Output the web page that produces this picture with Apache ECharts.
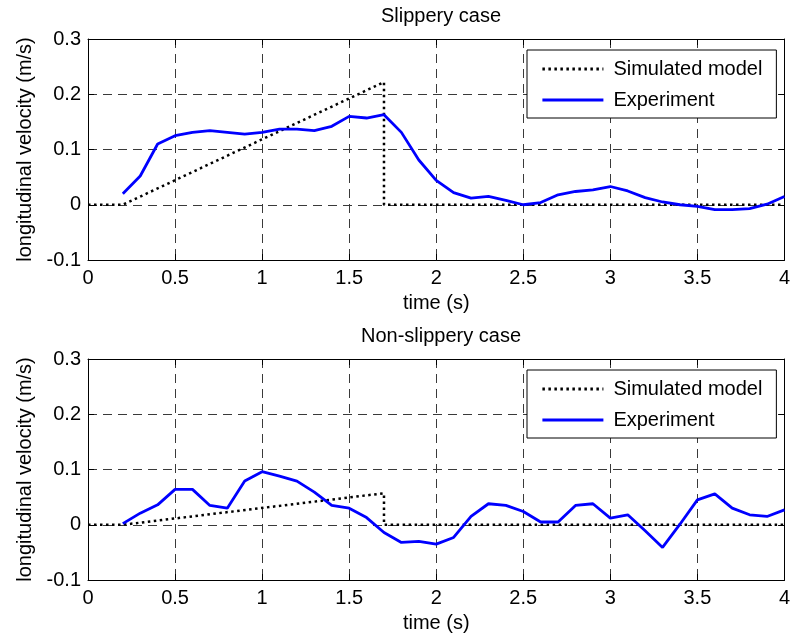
<!DOCTYPE html>
<html>
<head>
<meta charset="utf-8">
<script src="https://cdn.jsdelivr.net/npm/echarts@6/dist/echarts.min.js"></script>
<style>html,body{margin:0;padding:0;background:#fff;}#c{width:793px;height:639px;}</style>
</head>
<body>
<div id="c"></div>
<script>
// ---- data ----
var titles = ["Slippery case", "Non-slippery case"];
var seriesNames = ["Simulated model", "Experiment"];
var xTicks = [0, 0.5, 1, 1.5, 2, 2.5, 3, 3.5, 4];
var yTicks = [-0.1, 0, 0.1, 0.2, 0.3];

var simTime = [0, 0.2, 1.7, 1.7, 4];
var simSlippery = [0, 0, 0.222, 0, 0];
var simNonSlippery = [0, 0, 0.057, 0, 0];

var expTime = [0.2, 0.3, 0.4, 0.5, 0.6, 0.7, 0.8, 0.9, 1.0,
  1.1, 1.2, 1.3, 1.4, 1.5, 1.6, 1.7, 1.8, 1.9, 2.0,
  2.1, 2.2, 2.3, 2.4, 2.5, 2.6, 2.7, 2.8, 2.9, 3.0,
  3.1, 3.2, 3.3, 3.4, 3.5, 3.6, 3.7, 3.8, 3.9, 4.0];
var expSlippery = [0.020, 0.052, 0.110, 0.125, 0.131, 0.134, 0.131, 0.128, 0.131,
  0.137, 0.137, 0.134, 0.142, 0.160, 0.157, 0.163, 0.131, 0.081, 0.044,
  0.022, 0.012, 0.015, 0.008, 0.000, 0.004, 0.018, 0.024, 0.027, 0.033,
  0.025, 0.013, 0.005, 0.000, -0.003, -0.009, -0.009, -0.007, 0.001, 0.015];
var expNonSlippery = [0.002, 0.021, 0.036, 0.064, 0.064, 0.035, 0.030, 0.079, 0.096,
  0.088, 0.079, 0.059, 0.035, 0.030, 0.013, -0.014, -0.032, -0.030, -0.035,
  -0.023, 0.015, 0.038, 0.035, 0.024, 0.005, 0.005, 0.035, 0.038, 0.012,
  0.018, -0.011, -0.041, 0.001, 0.045, 0.056, 0.030, 0.018, 0.015, 0.027];

// ---- build ----
function zip(xs, ys) { return xs.map(function (x, i) { return [x, ys[i]]; }); }
var FONT = 'Liberation Sans';
var FS = 20;
var gridTops = [39, 359];
var xMin = xTicks[0], xMax = xTicks[xTicks.length - 1], xInt = xTicks[1] - xTicks[0];
var yMin = yTicks[0], yMax = yTicks[yTicks.length - 1], yInt = 0.1;

var grids = [], xAxes = [], yAxes = [], titleArr = [], legends = [], series = [];
var simData = [simSlippery, simNonSlippery];
var expData = [expSlippery, expNonSlippery];

gridTops.forEach(function (top, g) {
  grids.push({ left: 88, top: top, width: 697, height: 221, containLabel: false, show: false });
  titleArr.push({ text: titles[g], left: 436, top: top - 38, textAlign: 'center',
    textStyle: { fontFamily: FONT, fontSize: FS, fontWeight: 'normal', color: '#000' } });
  var axLine = { show: true, onZero: false, lineStyle: { color: '#000', width: 1 } };
  var tick = { show: true, inside: true, length: 6, lineStyle: { color: '#000' } };
  var split = { show: true, lineStyle: { color: '#3a3a3a', width: 1, type: [9, 6] } };
  xAxes.push({ type: 'value', gridIndex: g, position: 'bottom', min: xMin, max: xMax, interval: xInt,
    axisLine: axLine, axisTick: tick, splitLine: split,
    axisLabel: { fontFamily: FONT, fontSize: FS, color: '#000', margin: 8 },
    name: 'time (s)', nameLocation: 'middle', nameGap: 33,
    nameTextStyle: { fontFamily: FONT, fontSize: FS, color: '#000' } });
  xAxes.push({ type: 'value', gridIndex: g, position: 'top', min: xMin, max: xMax, interval: xInt,
    axisLine: axLine, axisTick: tick, splitLine: { show: false }, axisLabel: { show: false } });
  yAxes.push({ type: 'value', gridIndex: g, position: 'left', min: yMin, max: yMax, interval: yInt,
    axisLine: axLine, axisTick: tick, splitLine: split,
    axisLabel: { fontFamily: FONT, fontSize: FS, color: '#000', margin: 7 },
    name: 'longitudinal velocity (m/s)', nameLocation: 'middle', nameGap: 52,
    nameTextStyle: { fontFamily: FONT, fontSize: FS, color: '#000' } });
  yAxes.push({ type: 'value', gridIndex: g, position: 'right', min: yMin, max: yMax, interval: yInt,
    axisLine: axLine, axisTick: tick, splitLine: { show: false }, axisLabel: { show: false } });
  legends.push({ data: seriesNames.slice(), orient: 'vertical', left: 527, top: top + 11,
    backgroundColor: '#fff', borderColor: '#000', borderWidth: 1, borderRadius: 0,
    padding: [9, 14, 8, 14], itemWidth: 61, itemHeight: 20, itemGap: 11,
    itemStyle: { opacity: 0, borderWidth: 0 },
    lineStyle: { width: 2.8 },
    textStyle: { fontFamily: FONT, fontSize: FS, color: '#000', padding: [0, 0, 0, 5] } });
  series.push({ name: seriesNames[0], type: 'line', xAxisIndex: 2 * g, yAxisIndex: 2 * g,
    data: zip(simTime, simData[g]), symbol: 'none', animation: false,
    lineStyle: { color: '#000', width: 2.5, type: [2.5, 3.5] }, itemStyle: { color: '#000' } });
  series.push({ name: seriesNames[1], type: 'line', xAxisIndex: 2 * g, yAxisIndex: 2 * g,
    data: zip(expTime, expData[g]), symbol: 'none', animation: false,
    lineStyle: { color: '#0000ff', width: 2.8 }, itemStyle: { color: '#0000ff' } });
});

var chart = echarts.init(document.getElementById('c'), null, { renderer: 'canvas' });
chart.setOption({
  backgroundColor: '#fff',
  animation: false,
  title: titleArr,
  legend: legends,
  grid: grids,
  xAxis: xAxes,
  yAxis: yAxes,
  series: series
});
</script>
</body>
</html>
